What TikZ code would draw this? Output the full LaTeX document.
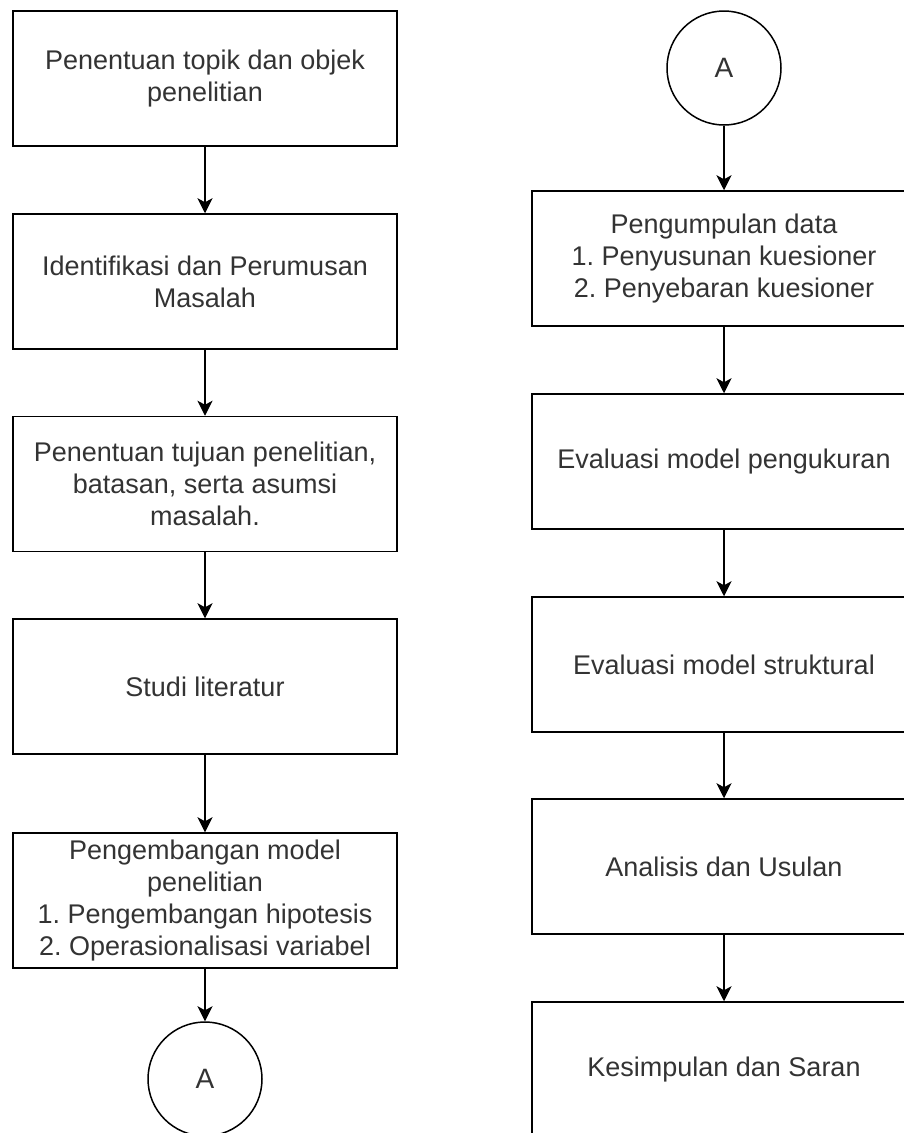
\documentclass[tikz,border=0pt]{standalone}
\usepackage{fontspec}
\setmainfont{Liberation Sans}
\frenchspacing
\definecolor{txtgray}{RGB}{51,51,51}
\usetikzlibrary{arrows.meta,positioning}

\tikzset{
  stepbox/.style={draw, line width=1.5pt, minimum width=384pt, minimum height=135pt,
    align=center, text=txtgray, font=\fontsize{27}{32}\selectfont},
  connector/.style={draw, circle, line width=1.5pt, minimum size=114pt,
    text=txtgray, font=\fontsize{28}{32}\selectfont},
  flow/.style={-{Stealth[length=15pt, width=15pt, inset=4pt]}, line width=1.5pt}
}

\begin{document}
\begin{tikzpicture}[x=1pt, y=-1pt]
    \useasboundingbox (0,0) rectangle (904,1133);

    % Left column
    \node[stepbox] (l1) at (205, 78.5)  {Penentuan topik dan objek\\penelitian};
    \node[stepbox] (l2) at (205, 281.5) {Identifikasi dan Perumusan\\Masalah};
    \node[stepbox] (l3) at (205, 484)   {Penentuan tujuan penelitian,\\batasan, serta asumsi\\masalah.};
    \node[stepbox] (l4) at (205, 686.5) {Studi literatur};
    \node[stepbox] (l5) at (205, 900.5) {Pengembangan model\\penelitian\\1. Pengembangan hipotesis\\2. Operasionalisasi variabel};
    \node[connector] (la) at (205, 1079) {A};

    % Right column
    \node[connector] (ra) at (724, 68) {A};
    \node[stepbox] (r1) at (724, 258.5)  {Pengumpulan data\\1. Penyusunan kuesioner\\2. Penyebaran kuesioner};
    \node[stepbox] (r2) at (724, 461.5)  {Evaluasi model pengukuran};
    \node[stepbox] (r3) at (724, 664.5)  {Evaluasi model struktural};
    \node[stepbox] (r4) at (724, 866.5)  {Analisis dan Usulan};
    \node[stepbox] (r5) at (724, 1069.5) {Kesimpulan dan Saran};

    % Arrows
    \foreach \a/\b in {l1/l2, l2/l3, l3/l4, l4/l5, l5/la, ra/r1, r1/r2, r2/r3, r3/r4, r4/r5} {
      \draw[flow] (\a) -- (\b);
    }
\end{tikzpicture}
\end{document}
